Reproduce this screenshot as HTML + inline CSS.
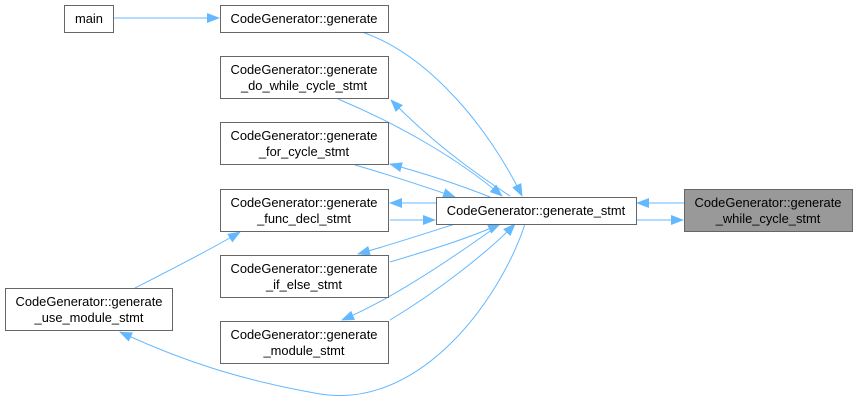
<!DOCTYPE html>
<html><head><meta charset="utf-8"><style>
html,body{margin:0;padding:0;background:#fff;}
svg{display:block;}
text{font-family:"Liberation Sans",Arial,sans-serif;font-size:12.9px;fill:#000;}
</style></head><body>
<svg width="857" height="402" viewBox="0 0 857 402" xmlns="http://www.w3.org/2000/svg">
<defs>
<marker id="a" markerWidth="13" markerHeight="10" refX="12" refY="5" orient="auto" markerUnits="userSpaceOnUse">
<path d="M0,0 L13,5 L0,10 z" fill="#63b8ff"/>
</marker>
</defs>
<g fill="none" stroke="#63b8ff" stroke-width="1" marker-end="url(#a)">
<path d="M113,18 L219,18"/>
<path d="M362,32 C430,55 490,130 522,196"/>
<path d="M338,99 C400,125 460,160 502,196"/>
<path d="M510,196 C470,170 430,140 391,100"/>
<path d="M490,197 C460,185 430,175 390,164"/>
<path d="M355,165 C390,175 420,185 455,197"/>
<path d="M436,203 L390,203"/>
<path d="M390,220 L435,220"/>
<path d="M455,224 C430,232 390,245 358,254"/>
<path d="M390,262 C430,250 470,238 500,224"/>
<path d="M500,224 C450,260 390,300 342,320"/>
<path d="M390,320 C440,290 490,250 515,224"/>
<path d="M135,288 C170,270 210,250 240,232"/>
<path d="M525,224 C500,300 420,410 320,394 C240,380 180,360 120,332"/>
<path d="M684,203 L637,203"/>
<path d="M636,220 L683,220"/>
</g>
<g stroke="#666" stroke-width="1" fill="#fff">
<rect x="64.5" y="5.5" width="49" height="27"/>
<rect x="220.5" y="5.5" width="168" height="27"/>
<rect x="220.5" y="56.5" width="168" height="42"/>
<rect x="220.5" y="122.5" width="168" height="42"/>
<rect x="220.5" y="189.5" width="168" height="42"/>
<rect x="220.5" y="255.5" width="168" height="42"/>
<rect x="220.5" y="321.5" width="168" height="42"/>
<rect x="5.5" y="288.5" width="167" height="42"/>
<rect x="436.5" y="197.5" width="200" height="27"/>
<rect x="684.5" y="189.5" width="168" height="42" fill="#999"/>
</g>
<g text-anchor="middle">
<text x="89" y="23">main</text>
<text x="304" y="23">CodeGenerator::generate</text>
<text x="304" y="74">CodeGenerator::generate</text><text x="304" y="90">_do_while_cycle_stmt</text>
<text x="304" y="140">CodeGenerator::generate</text><text x="304" y="156">_for_cycle_stmt</text>
<text x="304" y="207">CodeGenerator::generate</text><text x="304" y="223">_func_decl_stmt</text>
<text x="304" y="273">CodeGenerator::generate</text><text x="304" y="289">_if_else_stmt</text>
<text x="304" y="339">CodeGenerator::generate</text><text x="304" y="355">_module_stmt</text>
<text x="89" y="306">CodeGenerator::generate</text><text x="89" y="322">_use_module_stmt</text>
<text x="536" y="215">CodeGenerator::generate_stmt</text>
<text x="768" y="207">CodeGenerator::generate</text><text x="768" y="223">_while_cycle_stmt</text>
</g>
</svg>
</body></html>
